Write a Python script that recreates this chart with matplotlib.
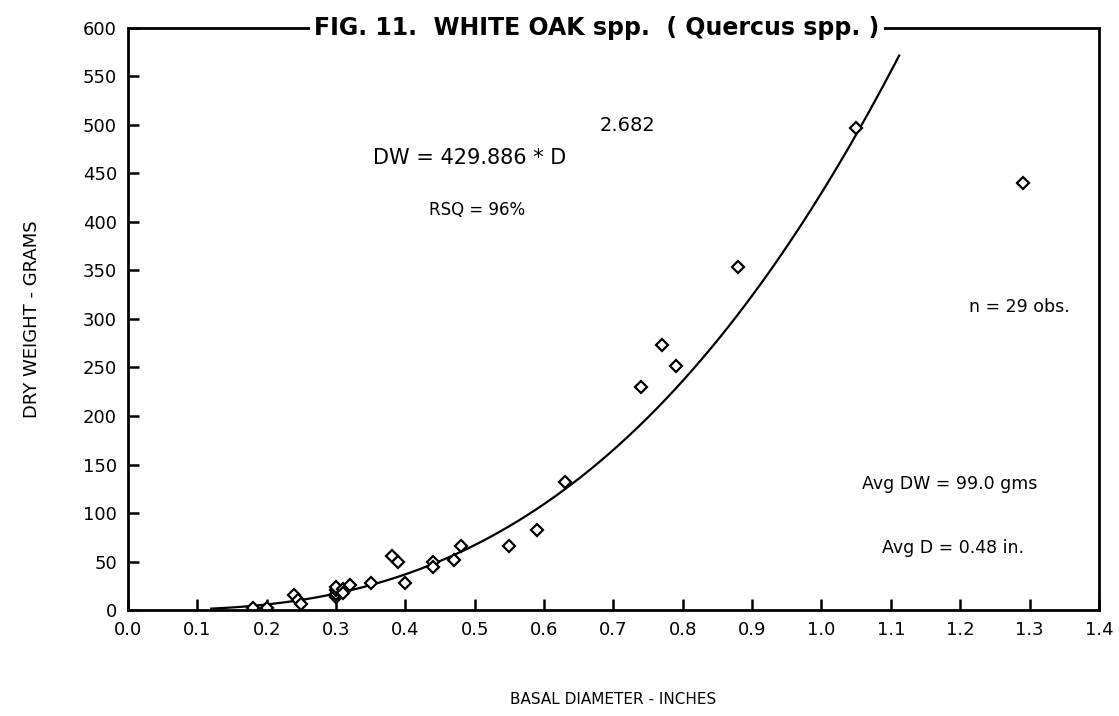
import numpy as np
import matplotlib.pyplot as plt

# ----------------------------
# DATA
# ----------------------------
diameter = [0.18, 0.20, 0.24, 0.245, 0.25, 0.30, 0.30, 0.30, 0.30, 0.31,
            0.31, 0.32, 0.35, 0.38, 0.39, 0.40, 0.44, 0.44, 0.47, 0.48,
            0.55, 0.59, 0.63, 0.74, 0.77, 0.79, 0.88, 1.05, 1.29]
dry_weight = [2, 2, 16, 10, 6, 13, 17, 21, 24, 22,
              18, 26, 28, 56, 49, 28, 50, 44, 52, 66,
              66, 82, 132, 230, 273, 252, 354, 497, 440]

coef_a = 429.886
coef_b = 2.682
fit_range = (0.12, 1.112)

x_ticks = np.round(np.arange(0, 1.41, 0.1), 1)
y_ticks = np.arange(0, 601, 50)

# ----------------------------
# FIGURE
# ----------------------------
fig = plt.figure(figsize=(11.19, 7.16), dpi=100)
ax = fig.add_axes([0.1144, 0.148, 0.8676, 0.813])

xf = np.linspace(fit_range[0], fit_range[1], 300)
ax.plot(xf, coef_a * xf ** coef_b, color="black", lw=1.6)

ax.plot(diameter, dry_weight, linestyle="none", marker="D", ms=6,
        mfc="white", mec="black", mew=1.6)

ax.set_xlim(0, 1.4)
ax.set_ylim(0, 600)
ax.set_xticks(x_ticks)
ax.set_xticklabels([f"{v:.1f}" for v in x_ticks])
ax.set_yticks(y_ticks)
ax.tick_params(direction="in", length=8, width=1.8, labelsize=13, pad=8)

for s in ax.spines.values():
    s.set_linewidth(2)

ax.set_xlabel("BASAL DIAMETER - INCHES", fontsize=11, labelpad=38)
ax.set_ylabel("DRY WEIGHT - GRAMS", fontsize=13, labelpad=30)

ax.text(0.483, 1.0, "FIG. 11.  WHITE OAK spp.  ( Quercus spp. )",
        transform=ax.transAxes, ha="center", va="center",
        fontsize=17, fontweight="bold",
        bbox=dict(facecolor="white", edgecolor="none", pad=3))

ax.text(0.493, 466, "DW = 429.886 * D", fontsize=15, ha="center", va="center")
ax.text(0.72, 499, "2.682", fontsize=14, ha="center", va="center")
ax.text(0.503, 412, "RSQ = 96%", fontsize=12, ha="center", va="center")
ax.text(1.286, 312, "n = 29 obs.", fontsize=12.5, ha="center", va="center")
ax.text(1.185, 130, "Avg DW = 99.0 gms", fontsize=12.5, ha="center", va="center")
ax.text(1.19, 64, "Avg D = 0.48 in.", fontsize=12.5, ha="center", va="center")

fig.savefig("out.png", dpi=100, facecolor="white")
